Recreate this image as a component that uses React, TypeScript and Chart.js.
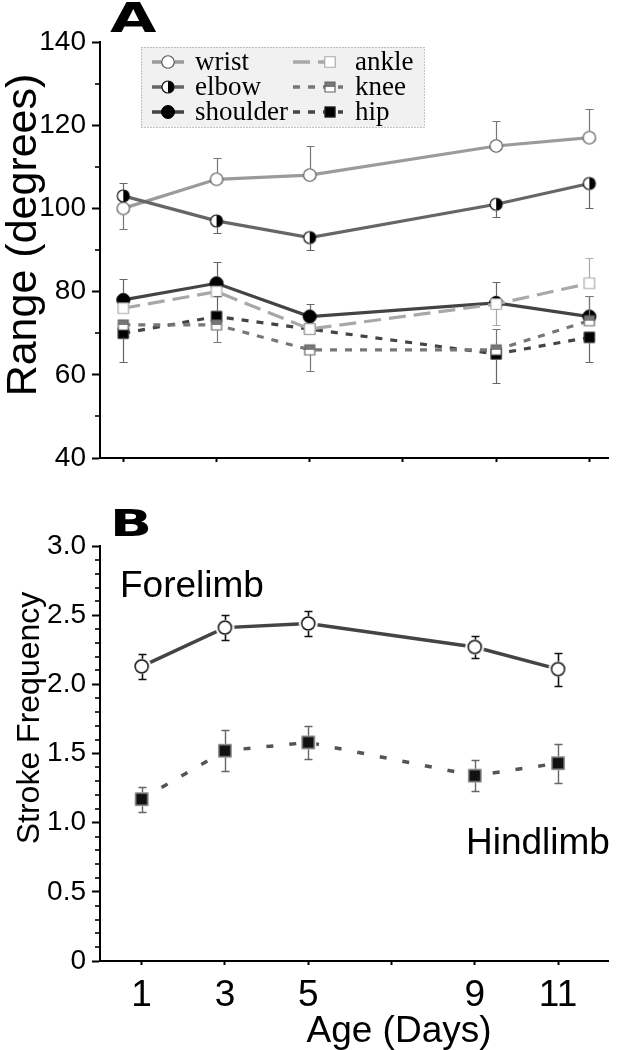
import React, { useEffect, useRef } from 'react';
import { Chart, registerables } from 'chart.js';

Chart.register(...registerables);

// ---------------- data ----------------
const ageDays = [1, 3, 5, 9, 11];

// Panel A – joint range of motion (degrees)
const wristRange = [100, 107, 108, 115, 117];
const wristErrPlus = [0, 5, 7, 6, 7];
const wristErrMinus = [5, 0, 0, 0, 0];

const elbowRange = [103, 97, 93, 101, 106];
const elbowErrPlus = [3, 0, 0, 0, 0];
const elbowErrMinus = [0, 3, 3, 3, 6];

const shoulderRange = [78, 82, 74, 77.3, 74];
const shoulderErrPlus = [5, 5, 3, 5, 5];
const shoulderErrMinus = [0, 0, 0, 0, 0];

const ankleRange = [76, 80, 71, 77, 82];
const ankleErrPlus = [0, 0, 0, 0, 6];
const ankleErrMinus = [0, 0, 0, 5, 0];

const kneeRange = [72, 72, 66, 66, 73];
const kneeErrPlus = [0, 0, 0, 5, 6];
const kneeErrMinus = [0, 4, 5, 0, 0];

const hipRange = [70, 74, 71, 65, 69];
const hipErrPlus = [0, 5, 0, 0, 0];
const hipErrMinus = [7, 0, 0, 7, 6];

// Panel B – stroke frequency
const forelimbFreq = [2.13, 2.41, 2.44, 2.27, 2.11];
const forelimbErr = [0.09, 0.09, 0.09, 0.08, 0.12];
const hindlimbFreq = [1.17, 1.52, 1.58, 1.34, 1.43];
const hindlimbErr = [0.09, 0.15, 0.12, 0.11, 0.14];

// ticks
const dayTicks = [1, 3, 5, 7, 9, 11];
const dayTickLabels = ['1', '3', '5', '', '9', '11'];
const rangeTicks = [40, 60, 80, 100, 120, 140];
const rangeTickLabels = ['40', '60', '80', '100', '120', '140'];
const rangeMinorTicks = [50, 70, 90, 110, 130];
const freqTicks = [0, 0.5, 1.0, 1.5, 2.0, 2.5, 3.0];
const freqTickLabels = ['0', '0.5', '1.0', '1.5', '2.0', '2.5', '3.0'];
const freqMinorTicks = [0.1, 0.2, 0.3, 0.4, 0.6, 0.7, 0.8, 0.9, 1.1, 1.2, 1.3, 1.4, 1.6, 1.7, 1.8, 1.9, 2.1, 2.2, 2.3, 2.4, 2.6, 2.7, 2.8, 2.9];

// ---------------- markers ----------------
type Marker = {
  shape: 'circle' | 'square';
  size: number;
  fill: string;
  fill2?: string;
  split?: 'right' | 'top';
  stroke: string;
  strokeWidth: number;
  halo?: number;
};

function traceShape(ctx: CanvasRenderingContext2D, shape: string, cx: number, cy: number, r: number) {
  ctx.beginPath();
  if (shape === 'circle') ctx.arc(cx, cy, r, 0, Math.PI * 2);
  else ctx.rect(cx - r, cy - r, 2 * r, 2 * r);
}

function paintMarker(ctx: CanvasRenderingContext2D, m: Marker, cx: number, cy: number) {
  const r = m.size / 2;
  ctx.save();
  ctx.setLineDash([]);
  if (m.halo) {
    traceShape(ctx, m.shape, cx, cy, r + m.halo);
    ctx.fillStyle = '#ffffff';
    ctx.fill();
  }
  traceShape(ctx, m.shape, cx, cy, r);
  ctx.fillStyle = m.fill;
  ctx.fill();
  if (m.fill2) {
    ctx.save();
    traceShape(ctx, m.shape, cx, cy, r);
    ctx.clip();
    ctx.fillStyle = m.fill2;
    if (m.split === 'right') ctx.fillRect(cx, cy - r - 1, r + 1, 2 * r + 2);
    else ctx.fillRect(cx - r - 1, cy - r - 1, 2 * r + 2, r + 1);
    ctx.restore();
  }
  traceShape(ctx, m.shape, cx, cy, r);
  ctx.lineWidth = m.strokeWidth;
  ctx.strokeStyle = m.stroke;
  ctx.stroke();
  ctx.restore();
}

function markerImage(m: Marker): HTMLCanvasElement {
  const dim = Math.ceil(m.size + 2 * (m.halo || 0) + m.strokeWidth + 4);
  const c = document.createElement('canvas');
  c.width = dim;
  c.height = dim;
  const ctx = c.getContext('2d') as CanvasRenderingContext2D;
  paintMarker(ctx, m, dim / 2, dim / 2);
  return c;
}

// ---------------- series styles ----------------
const seriesA = [
  { label: 'wrist', values: wristRange, plus: wristErrPlus, minus: wristErrMinus, color: '#9b9b9b', width: 3.2, dash: [] as number[], err: '#777777', order: 6,
    marker: { shape: 'circle', size: 12.5, fill: '#ffffff', stroke: '#555555', strokeWidth: 1.2 } as Marker },
  { label: 'elbow', values: elbowRange, plus: elbowErrPlus, minus: elbowErrMinus, color: '#666666', width: 3.2, dash: [] as number[], err: '#666666', order: 5,
    marker: { shape: 'circle', size: 12, fill: '#ffffff', fill2: '#000000', split: 'right', stroke: '#111111', strokeWidth: 1.2 } as Marker },
  { label: 'shoulder', values: shoulderRange, plus: shoulderErrPlus, minus: shoulderErrMinus, color: '#444444', width: 3.2, dash: [] as number[], err: '#666666', order: 4,
    marker: { shape: 'circle', size: 13, fill: '#000000', stroke: '#000000', strokeWidth: 1 } as Marker },
  { label: 'ankle', values: ankleRange, plus: ankleErrPlus, minus: ankleErrMinus, color: '#a8a8a8', width: 3.2, dash: [17, 8], err: '#aaaaaa', order: 1,
    marker: { shape: 'square', size: 10.5, fill: '#ffffff', stroke: '#aaaaaa', strokeWidth: 1.2 } as Marker },
  { label: 'knee', values: kneeRange, plus: kneeErrPlus, minus: kneeErrMinus, color: '#777777', width: 3.2, dash: [7, 8], err: '#777777', order: 2,
    marker: { shape: 'square', size: 10, fill: '#ffffff', fill2: '#777777', split: 'top', stroke: '#666666', strokeWidth: 1.2 } as Marker },
  { label: 'hip', values: hipRange, plus: hipErrPlus, minus: hipErrMinus, color: '#444444', width: 3.2, dash: [7, 8], err: '#666666', order: 3,
    marker: { shape: 'square', size: 10.5, fill: '#000000', stroke: '#444444', strokeWidth: 1 } as Marker },
];

const seriesB = [
  { label: 'Forelimb', values: forelimbFreq, plus: forelimbErr, minus: forelimbErr, color: '#444444', width: 3.5, dash: [] as number[], err: '#111111', errWidth: 1.6, order: 1,
    marker: { shape: 'circle', size: 13, fill: '#ffffff', stroke: '#111111', strokeWidth: 1.5, halo: 3 } as Marker },
  { label: 'Hindlimb', values: hindlimbFreq, plus: hindlimbErr, minus: hindlimbErr, color: '#555555', width: 3.5, dash: [7, 16], err: '#666666', errWidth: 1.4, order: 2,
    marker: { shape: 'square', size: 12, fill: '#111111', stroke: '#777777', strokeWidth: 1.5, halo: 2 } as Marker },
];

function toDatasets(series: any[], errWidthDefault: number, cap: number) {
  return series.map((s) => ({
    label: s.label,
    data: ageDays.map((d, i) => ({ x: d, y: s.values[i] })),
    borderColor: s.color,
    backgroundColor: s.color,
    borderWidth: s.width,
    borderDash: s.dash,
    fill: false,
    tension: 0,
    pointStyle: markerImage(s.marker),
    pointRadius: s.marker.size / 2,
    pointHoverRadius: s.marker.size / 2,
    order: s.order,
    clip: false,
    errPlus: s.plus,
    errMinus: s.minus,
    errColor: s.err,
    errWidth: s.errWidth || errWidthDefault,
    errCap: cap,
    markerHalf: s.marker.size / 2 + (s.marker.halo ? 1 : 0),
  }));
}

// ---------------- plugins ----------------
const errorBarPlugin = {
  id: 'errorBars',
  afterDatasetsDraw(chart: any) {
    const ctx = chart.ctx as CanvasRenderingContext2D;
    const yScale = chart.scales.y;
    chart.data.datasets.forEach((ds: any, di: number) => {
      if (!ds.errPlus) return;
      const meta = chart.getDatasetMeta(di);
      ctx.save();
      ctx.setLineDash([]);
      ctx.strokeStyle = ds.errColor;
      ctx.lineWidth = ds.errWidth;
      meta.data.forEach((pt: any, i: number) => {
        const v = ds.data[i].y;
        const px = Math.round(pt.x) + 0.5;
        const py = pt.y;
        const h = ds.markerHalf;
        const up = ds.errPlus[i];
        const dn = ds.errMinus[i];
        if (up > 0) {
          const yt = Math.round(yScale.getPixelForValue(v + up)) + 0.5;
          ctx.beginPath();
          ctx.moveTo(px, py - h);
          ctx.lineTo(px, yt);
          ctx.moveTo(px - ds.errCap, yt);
          ctx.lineTo(px + ds.errCap, yt);
          ctx.stroke();
        }
        if (dn > 0) {
          const yb = Math.round(yScale.getPixelForValue(v - dn)) + 0.5;
          ctx.beginPath();
          ctx.moveTo(px, py + h);
          ctx.lineTo(px, yb);
          ctx.moveTo(px - ds.errCap, yb);
          ctx.lineTo(px + ds.errCap, yb);
          ctx.stroke();
        }
      });
      ctx.restore();
    });
  },
};

function minorTicksPlugin(values: number[], length: number) {
  return {
    id: 'minorTicks',
    afterDraw(chart: any) {
      const ctx = chart.ctx as CanvasRenderingContext2D;
      const s = chart.scales.y;
      const x0 = chart.chartArea.left;
      ctx.save();
      ctx.strokeStyle = '#000000';
      ctx.lineWidth = 1.6;
      values.forEach((v) => {
        const py = Math.round(s.getPixelForValue(v));
        ctx.beginPath();
        ctx.moveTo(x0, py);
        ctx.lineTo(x0 - length, py);
        ctx.stroke();
      });
      ctx.restore();
    },
  };
}

type TextItem = { text: string; x: number; y: number; font: string; align?: CanvasTextAlign; rotate?: number; scaleX?: number };

function textPlugin(items: TextItem[]) {
  return {
    id: 'panelTexts',
    afterDraw(chart: any) {
      const ctx = chart.ctx as CanvasRenderingContext2D;
      items.forEach((it) => {
        ctx.save();
        ctx.font = it.font;
        ctx.fillStyle = '#000000';
        ctx.textAlign = it.align || 'left';
        ctx.textBaseline = 'alphabetic';
        ctx.translate(it.x, it.y);
        if (it.rotate) ctx.rotate(it.rotate);
        if (it.scaleX) ctx.scale(it.scaleX, 1);
        ctx.fillText(it.text, 0, 0);
        ctx.restore();
      });
    },
  };
}

const legendPlugin = {
  id: 'legendA',
  afterDraw(chart: any) {
    const ctx = chart.ctx as CanvasRenderingContext2D;
    ctx.save();
    ctx.fillStyle = '#f1f1f1';
    ctx.fillRect(141, 47, 283, 80);
    ctx.strokeStyle = '#888888';
    ctx.lineWidth = 1;
    ctx.setLineDash([1, 2]);
    ctx.strokeRect(141.5, 47.5, 283, 80);
    ctx.restore();

    const rows = [62, 87, 112];
    const cols = [
      { x1: 152, x2: 184, mx: 168, tx: 195 },
      { x1: 293, x2: 343, mx: 330, tx: 355 },
    ];
    seriesA.forEach((s, i) => {
      const col = cols[Math.floor(i / 3)];
      const y = rows[i % 3];
      ctx.save();
      ctx.strokeStyle = s.color;
      ctx.lineWidth = 3.5;
      ctx.setLineDash(s.dash);
      ctx.beginPath();
      ctx.moveTo(col.x1, y);
      ctx.lineTo(col.x2, y);
      ctx.stroke();
      ctx.restore();
      paintMarker(ctx, s.marker, col.mx, y);
      ctx.save();
      ctx.font = '27px "Liberation Serif"';
      ctx.fillStyle = '#000000';
      ctx.textAlign = 'left';
      ctx.textBaseline = 'alphabetic';
      ctx.fillText(s.label, col.tx, y + 8);
      ctx.restore();
    });
  },
};

// ---------------- configs ----------------
function axisCommon() {
  return {
    grid: { display: true, drawOnChartArea: false, drawTicks: true, tickColor: '#000000', tickWidth: 2, color: '#000000' },
    border: { display: true, color: '#000000', width: 2 },
  };
}

function configA(): any {
  const c = axisCommon();
  return {
    type: 'line',
    data: { datasets: toDatasets(seriesA, 1.2, 4) },
    options: {
      animation: false,
      responsive: false,
      maintainAspectRatio: false,
      layout: { padding: { top: 42, right: 10, left: 0, bottom: 0 } },
      plugins: { legend: { display: false }, tooltip: { enabled: false } },
      events: [],
      scales: {
        x: {
          type: 'linear',
          min: 0.5,
          max: 11.4,
          afterBuildTicks: (s: any) => { s.ticks = dayTicks.map((v) => ({ value: v })); },
          afterFit: (s: any) => { s.height = 32; },
          grid: { ...c.grid, tickLength: 4 },
          border: c.border,
          ticks: { autoSkip: false, maxRotation: 0, minRotation: 0, callback: () => '' },
        },
        y: {
          type: 'linear',
          min: 40,
          max: 140,
          afterBuildTicks: (s: any) => { s.ticks = rangeTicks.map((v) => ({ value: v })); },
          afterFit: (s: any) => { s.width = 100; },
          grid: { ...c.grid, tickLength: 8 },
          border: c.border,
          ticks: {
            autoSkip: false,
            padding: 6,
            color: '#000000',
            font: { family: '"Liberation Sans", Arial, sans-serif', size: 28 },
            callback: (_v: any, i: number) => rangeTickLabels[i],
          },
        },
      },
    },
    plugins: [
      errorBarPlugin,
      minorTicksPlugin(rangeMinorTicks, 5),
      legendPlugin,
      textPlugin([
        { text: 'A', x: 110, y: 32, font: 'bold 40px "DejaVu Sans"', scaleX: 1.5 },
        { text: 'Range (degrees)', x: 36, y: 235, font: '43px "Liberation Sans"', align: 'center', rotate: -Math.PI / 2 },
      ]),
    ],
  };
}

function configB(): any {
  const c = axisCommon();
  return {
    type: 'line',
    data: { datasets: toDatasets(seriesB, 1.4, 4) },
    options: {
      animation: false,
      responsive: false,
      maintainAspectRatio: false,
      layout: { padding: { top: 56, right: 0, left: 0, bottom: 0 } },
      plugins: { legend: { display: false }, tooltip: { enabled: false } },
      events: [],
      scales: {
        x: {
          type: 'linear',
          min: 0,
          max: 12.2,
          afterBuildTicks: (s: any) => { s.ticks = dayTicks.map((v) => ({ value: v })); },
          afterFit: (s: any) => { s.height = 89; },
          grid: { ...c.grid, tickLength: 4 },
          border: c.border,
          ticks: {
            autoSkip: false,
            maxRotation: 0,
            minRotation: 0,
            padding: 9,
            color: '#000000',
            font: { family: '"Liberation Sans", Arial, sans-serif', size: 37 },
            callback: (_v: any, i: number) => dayTickLabels[i],
          },
        },
        y: {
          type: 'linear',
          min: 0,
          max: 3,
          afterBuildTicks: (s: any) => { s.ticks = freqTicks.map((v) => ({ value: v })); },
          afterFit: (s: any) => { s.width = 100; },
          grid: { ...c.grid, tickLength: 8 },
          border: c.border,
          ticks: {
            autoSkip: false,
            padding: 6,
            color: '#000000',
            font: { family: '"Liberation Sans", Arial, sans-serif', size: 28 },
            callback: (_v: any, i: number) => freqTickLabels[i],
          },
        },
      },
    },
    plugins: [
      errorBarPlugin,
      minorTicksPlugin(freqMinorTicks, 5),
      textPlugin([
        { text: 'B', x: 110, y: 46, font: 'bold 38px "DejaVu Sans"', scaleX: 1.45 },
        { text: 'Stroke Frequency', x: 39, y: 228, font: '32px "Liberation Sans"', align: 'center', rotate: -Math.PI / 2 },
        { text: 'Forelimb', x: 120, y: 107, font: '37px "Liberation Sans"' },
        { text: 'Hindlimb', x: 466, y: 364, font: '37px "Liberation Sans"' },
        { text: 'Age (Days)', x: 399, y: 552, font: '37px "Liberation Sans"', align: 'center' },
      ]),
    ],
  };
}

export default function App() {
  const refA = useRef<HTMLCanvasElement>(null);
  const refB = useRef<HTMLCanvasElement>(null);

  useEffect(() => {
    Chart.defaults.font.family = '"Liberation Sans", Arial, sans-serif';
    Chart.defaults.color = '#000000';
    const a = new Chart(refA.current as HTMLCanvasElement, configA());
    const b = new Chart(refB.current as HTMLCanvasElement, configB());
    return () => {
      a.destroy();
      b.destroy();
    };
  }, []);

  return (
    <div style={{ position: 'absolute', left: 0, top: 0, width: 618, height: 1050, background: '#ffffff', overflow: 'hidden' }}>
      <canvas ref={refA} width={618} height={490} style={{ position: 'absolute', left: 0, top: 0, width: 618, height: 490, display: 'block' }} />
      <canvas ref={refB} width={618} height={560} style={{ position: 'absolute', left: 0, top: 490, width: 618, height: 560, display: 'block' }} />
    </div>
  );
}
